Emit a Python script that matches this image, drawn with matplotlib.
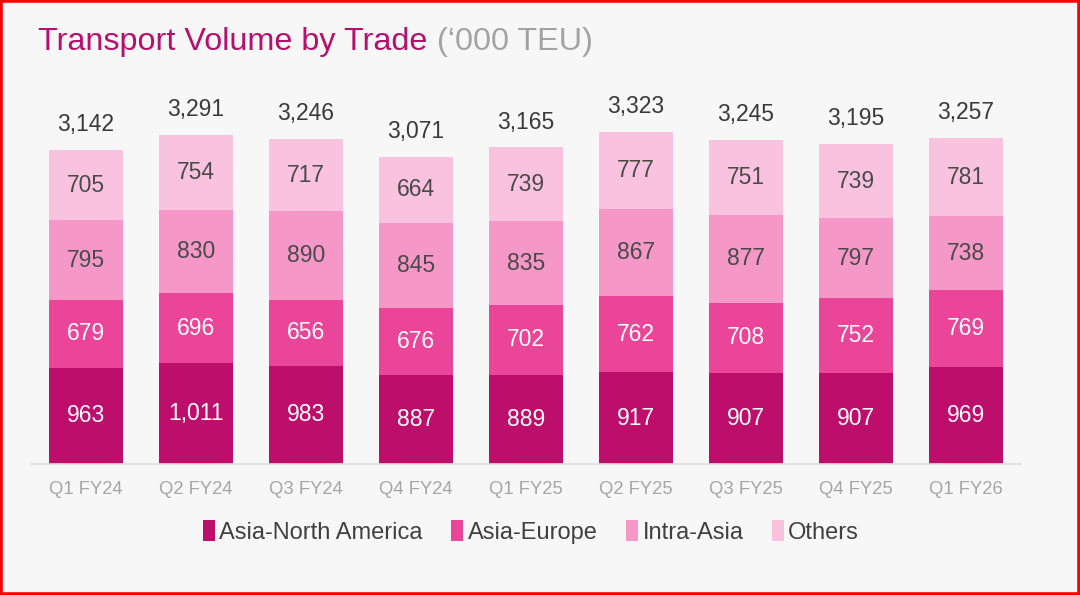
import numpy as np
import matplotlib.pyplot as plt
from matplotlib.patches import Rectangle

quarters = ["Q1 FY24", "Q2 FY24", "Q3 FY24", "Q4 FY24", "Q1 FY25",
            "Q2 FY25", "Q3 FY25", "Q4 FY25", "Q1 FY26"]
asia_na = [963, 1011, 983, 887, 889, 917, 907, 907, 969]
asia_eu = [679, 696, 656, 676, 702, 762, 708, 752, 769]
intra_asia = [795, 830, 890, 845, 835, 867, 877, 797, 738]
others = [705, 754, 717, 664, 739, 777, 751, 739, 781]
totals = [3142, 3291, 3246, 3071, 3165, 3323, 3245, 3195, 3257]

series_names = ["Asia-North America", "Asia-Europe", "Intra-Asia", "Others"]
colors = ["#bd0e6b", "#ea4598", "#f598c7", "#f9c2de"]
label_colors = ["white", "white", "#4a4a4a", "#4a4a4a"]

plt.rcParams["font.family"] = ["Liberation Sans", "DejaVu Sans"]

W, H = 1080, 595
fig = plt.figure(figsize=(W / 100, H / 100), dpi=100)
fig.patch.set_facecolor("#f7f7f7")

ax = fig.add_axes([31 / W, 131 / H, 990 / W, 400 / H])
ax.set_facecolor("#f7f7f7")

x = np.arange(len(quarters))
bottom = np.zeros(len(quarters))
for vals, name, col, lc in zip([asia_na, asia_eu, intra_asia, others],
                               series_names, colors, label_colors):
    vals = np.array(vals)
    ax.bar(x, vals, 0.67, bottom=bottom, color=col, label=name)
    for xi, b, v in zip(x, bottom, vals):
        ax.text(xi, b + v / 2, f"{v:,}", ha="center", va="center",
                fontsize=16.5, color=lc)
    bottom = bottom + vals

for xi, t in zip(x, totals):
    ax.text(xi, t + 140, f"{t:,}", ha="center", va="bottom",
            fontsize=16.5, color="#3a3a3a")

ax.set_xlim(-0.5, len(quarters) - 0.5)
ax.set_ylim(0, 4000)
ax.set_xticks(x)
ax.set_xticklabels(quarters, fontsize=13.3, color="#a6a6a6")
ax.tick_params(axis="x", length=0, pad=12)
ax.set_yticks([])
for s in ["top", "right", "left"]:
    ax.spines[s].set_visible(False)
ax.spines["bottom"].set_color("#dedede")
ax.spines["bottom"].set_linewidth(1.2)

leg = ax.legend(loc="center", bbox_to_anchor=(500 / 990, -68 / 400), ncol=4,
                frameon=False, fontsize=17, handlelength=0.5, handleheight=1.0,
                handletextpad=0.2, columnspacing=1.2)
for t in leg.get_texts():
    t.set_color("#404040")

title = fig.text(38 / W, 1 - 42 / H, "Transport Volume by Trade", fontsize=23.3,
                 color="#b5106e", va="center", ha="left")
fig.canvas.draw()
bb = title.get_window_extent()
fig.text(bb.x1 / W + 10 / W, 1 - 42 / H, "(\u2018000 TEU)", fontsize=23.3,
         color="#a3a3a3", va="center", ha="left")

fig.add_artist(Rectangle((0, 0), 1, 1, transform=fig.transFigure,
                         fill=False, edgecolor="#ff0000", linewidth=4))

fig.savefig("out.png", dpi=100, facecolor=fig.get_facecolor())
